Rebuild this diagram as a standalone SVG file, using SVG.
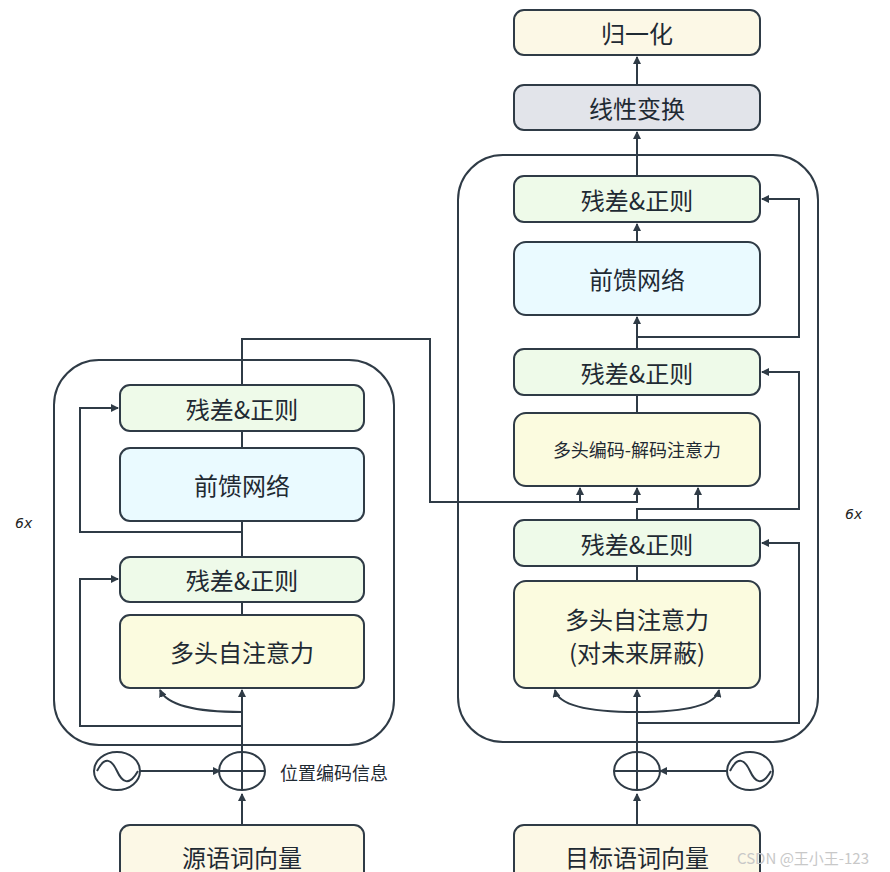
<svg xmlns="http://www.w3.org/2000/svg" width="890" height="872" viewBox="0 0 890 872">
<defs>
<marker id="ah" markerWidth="8" markerHeight="8" refX="7" refY="4" orient="auto" markerUnits="userSpaceOnUse" viewBox="0 0 8 8"><path d="M0,0 L8,4 L0,8 z" fill="#2f3b46"/></marker>
<style>
.b{stroke:#2f3b46;stroke-width:2}
.g{fill:#eefae9}.c{fill:#eafaff}.y{fill:#fbfbdf}.o{fill:#fcf8e6}.s{fill:#e2e4ea}
.t{font-family:"Noto Sans CJK SC","Noto Sans",sans-serif;font-size:24px;fill:#1f2a33;text-anchor:middle;dominant-baseline:central}
.l{fill:none;stroke:#2f3b46;stroke-width:2}
.cont{fill:none;stroke:#2f3b46;stroke-width:2}
</style>
</defs>
<rect width="890" height="872" fill="#fff"/>
<rect class="cont" x="54" y="360" width="340" height="385" rx="45"/>
<rect class="cont" x="458" y="155" width="360" height="587" rx="45"/>
<g id="connectors">
<path class="l" d="M242,825 V794" marker-end="url(#ah)"/>
<path class="l" d="M140,771 H220" marker-end="url(#ah)"/>
<path class="l" d="M242,752 V690" marker-end="url(#ah)"/>
<path class="l" d="M242,712 Q170,712 160,690" marker-end="url(#ah)"/>
<path class="l" d="M242,726 H80 V579 H118" marker-end="url(#ah)"/>
<path class="l" d="M242,602 V615"/>
<path class="l" d="M242,557 V521"/>
<path class="l" d="M242,532 H80 V408 H118" marker-end="url(#ah)"/>
<path class="l" d="M242,448 V431"/>
<path class="l" d="M242,385 V339 H430 V502 H637 V488" marker-end="url(#ah)"/>
<path class="l" d="M580,502 V488" marker-end="url(#ah)"/>
<path class="l" d="M637,825 V794" marker-end="url(#ah)"/>
<path class="l" d="M728,771 H660" marker-end="url(#ah)"/>
<path class="l" d="M637,752 V690" marker-end="url(#ah)"/>
<path class="l" d="M637,712 Q560,712 555,690" marker-end="url(#ah)"/>
<path class="l" d="M637,712 Q714,712 719,690" marker-end="url(#ah)"/>
<path class="l" d="M637,723 H799 V543 H762" marker-end="url(#ah)"/>
<path class="l" d="M637,581 V566"/>
<path class="l" d="M637,520 V509 H799 V372 H762" marker-end="url(#ah)"/>
<path class="l" d="M698,509 V488" marker-end="url(#ah)"/>
<path class="l" d="M637,413 V395"/>
<path class="l" d="M637,349 V317" marker-end="url(#ah)"/>
<path class="l" d="M637,337 H799 V199 H762" marker-end="url(#ah)"/>
<path class="l" d="M637,242 V224" marker-end="url(#ah)"/>
<path class="l" d="M637,176 V132" marker-end="url(#ah)"/>
<path class="l" d="M637,85 V57" marker-end="url(#ah)"/>
</g>
<g id="enc-add"><ellipse cx="242" cy="771" rx="23" ry="19" fill="#fff" class="b"/><path class="l" d="M219,771 H265 M242,752 V790"/></g>
<g id="enc-pos"><ellipse cx="117" cy="771" rx="23" ry="19" fill="#fff" class="b"/><path class="l" d="M97,771 C105,755 112,760 117,771 C122,782 129,787 138,771"/></g>
<g id="dec-add"><ellipse cx="637" cy="771" rx="23" ry="19" fill="#fff" class="b"/><path class="l" d="M614,771 H660 M637,752 V790"/></g>
<g id="dec-pos"><ellipse cx="750" cy="771" rx="23" ry="19" fill="#fff" class="b"/><path class="l" d="M730,771 C738,755 745,760 750,771 C755,782 762,787 771,771"/></g>
<text x="280" y="772" class="t" style="font-size:18px;text-anchor:start">位置编码信息</text>
<text x="15" y="528" style="font-family:'DejaVu Sans',sans-serif;font-style:italic;font-size:14px" fill="#222">6x</text>
<text x="845" y="519" style="font-family:'DejaVu Sans',sans-serif;font-style:italic;font-size:14px" fill="#222">6x</text>
<g id="enc-src"><rect class="b o" x="120" y="825" width="244" height="60" rx="10"/><text class="t" x="242" y="856">源语词向量</text></g>
<g id="enc-att"><rect class="b y" x="120" y="615" width="244" height="73" rx="10"/><text class="t" x="242" y="651">多头自注意力</text></g>
<g id="enc-an1"><rect class="b g" x="120" y="557" width="244" height="45" rx="10"/><text class="t" x="242" y="579">残差&amp;正则</text></g>
<g id="enc-ff"><rect class="b c" x="120" y="448" width="244" height="73" rx="10"/><text class="t" x="242" y="484">前馈网络</text></g>
<g id="enc-an2"><rect class="b g" x="120" y="385" width="244" height="46" rx="10"/><text class="t" x="242" y="408">残差&amp;正则</text></g>
<g id="dec-tgt"><rect class="b o" x="514" y="825" width="246" height="60" rx="10"/><text class="t" x="637" y="856">目标语词向量</text></g>
<g id="dec-att"><rect class="b y" x="514" y="581" width="246" height="107" rx="12"/><text class="t" x="637" y="618">多头自注意力</text><text class="t" x="637" y="651">(对未来屏蔽)</text></g>
<g id="dec-an1"><rect class="b g" x="514" y="520" width="246" height="46" rx="10"/><text class="t" x="637" y="543">残差&amp;正则</text></g>
<g id="dec-cross"><rect class="b y" x="514" y="413" width="246" height="73" rx="12"/><text class="t" x="637" y="449" style="font-size:18px">多头编码-解码注意力</text></g>
<g id="dec-an2"><rect class="b g" x="514" y="349" width="246" height="46" rx="10"/><text class="t" x="637" y="372">残差&amp;正则</text></g>
<g id="dec-ff"><rect class="b c" x="514" y="242" width="246" height="73" rx="12"/><text class="t" x="637" y="278">前馈网络</text></g>
<g id="dec-an3"><rect class="b g" x="514" y="176" width="246" height="46" rx="10"/><text class="t" x="637" y="199">残差&amp;正则</text></g>
<g id="linear"><rect class="b s" x="514" y="85" width="246" height="45" rx="10"/><text class="t" x="637" y="107">线性变换</text></g>
<g id="softmax"><rect class="b o" x="514" y="10" width="246" height="45" rx="10"/><text class="t" x="637" y="32">归一化</text></g>
<text x="737" y="864" style="font-family:'Noto Sans CJK SC',sans-serif;font-size:15px" fill="#c8c8c8">CSDN @王小王-123</text>
</svg>
